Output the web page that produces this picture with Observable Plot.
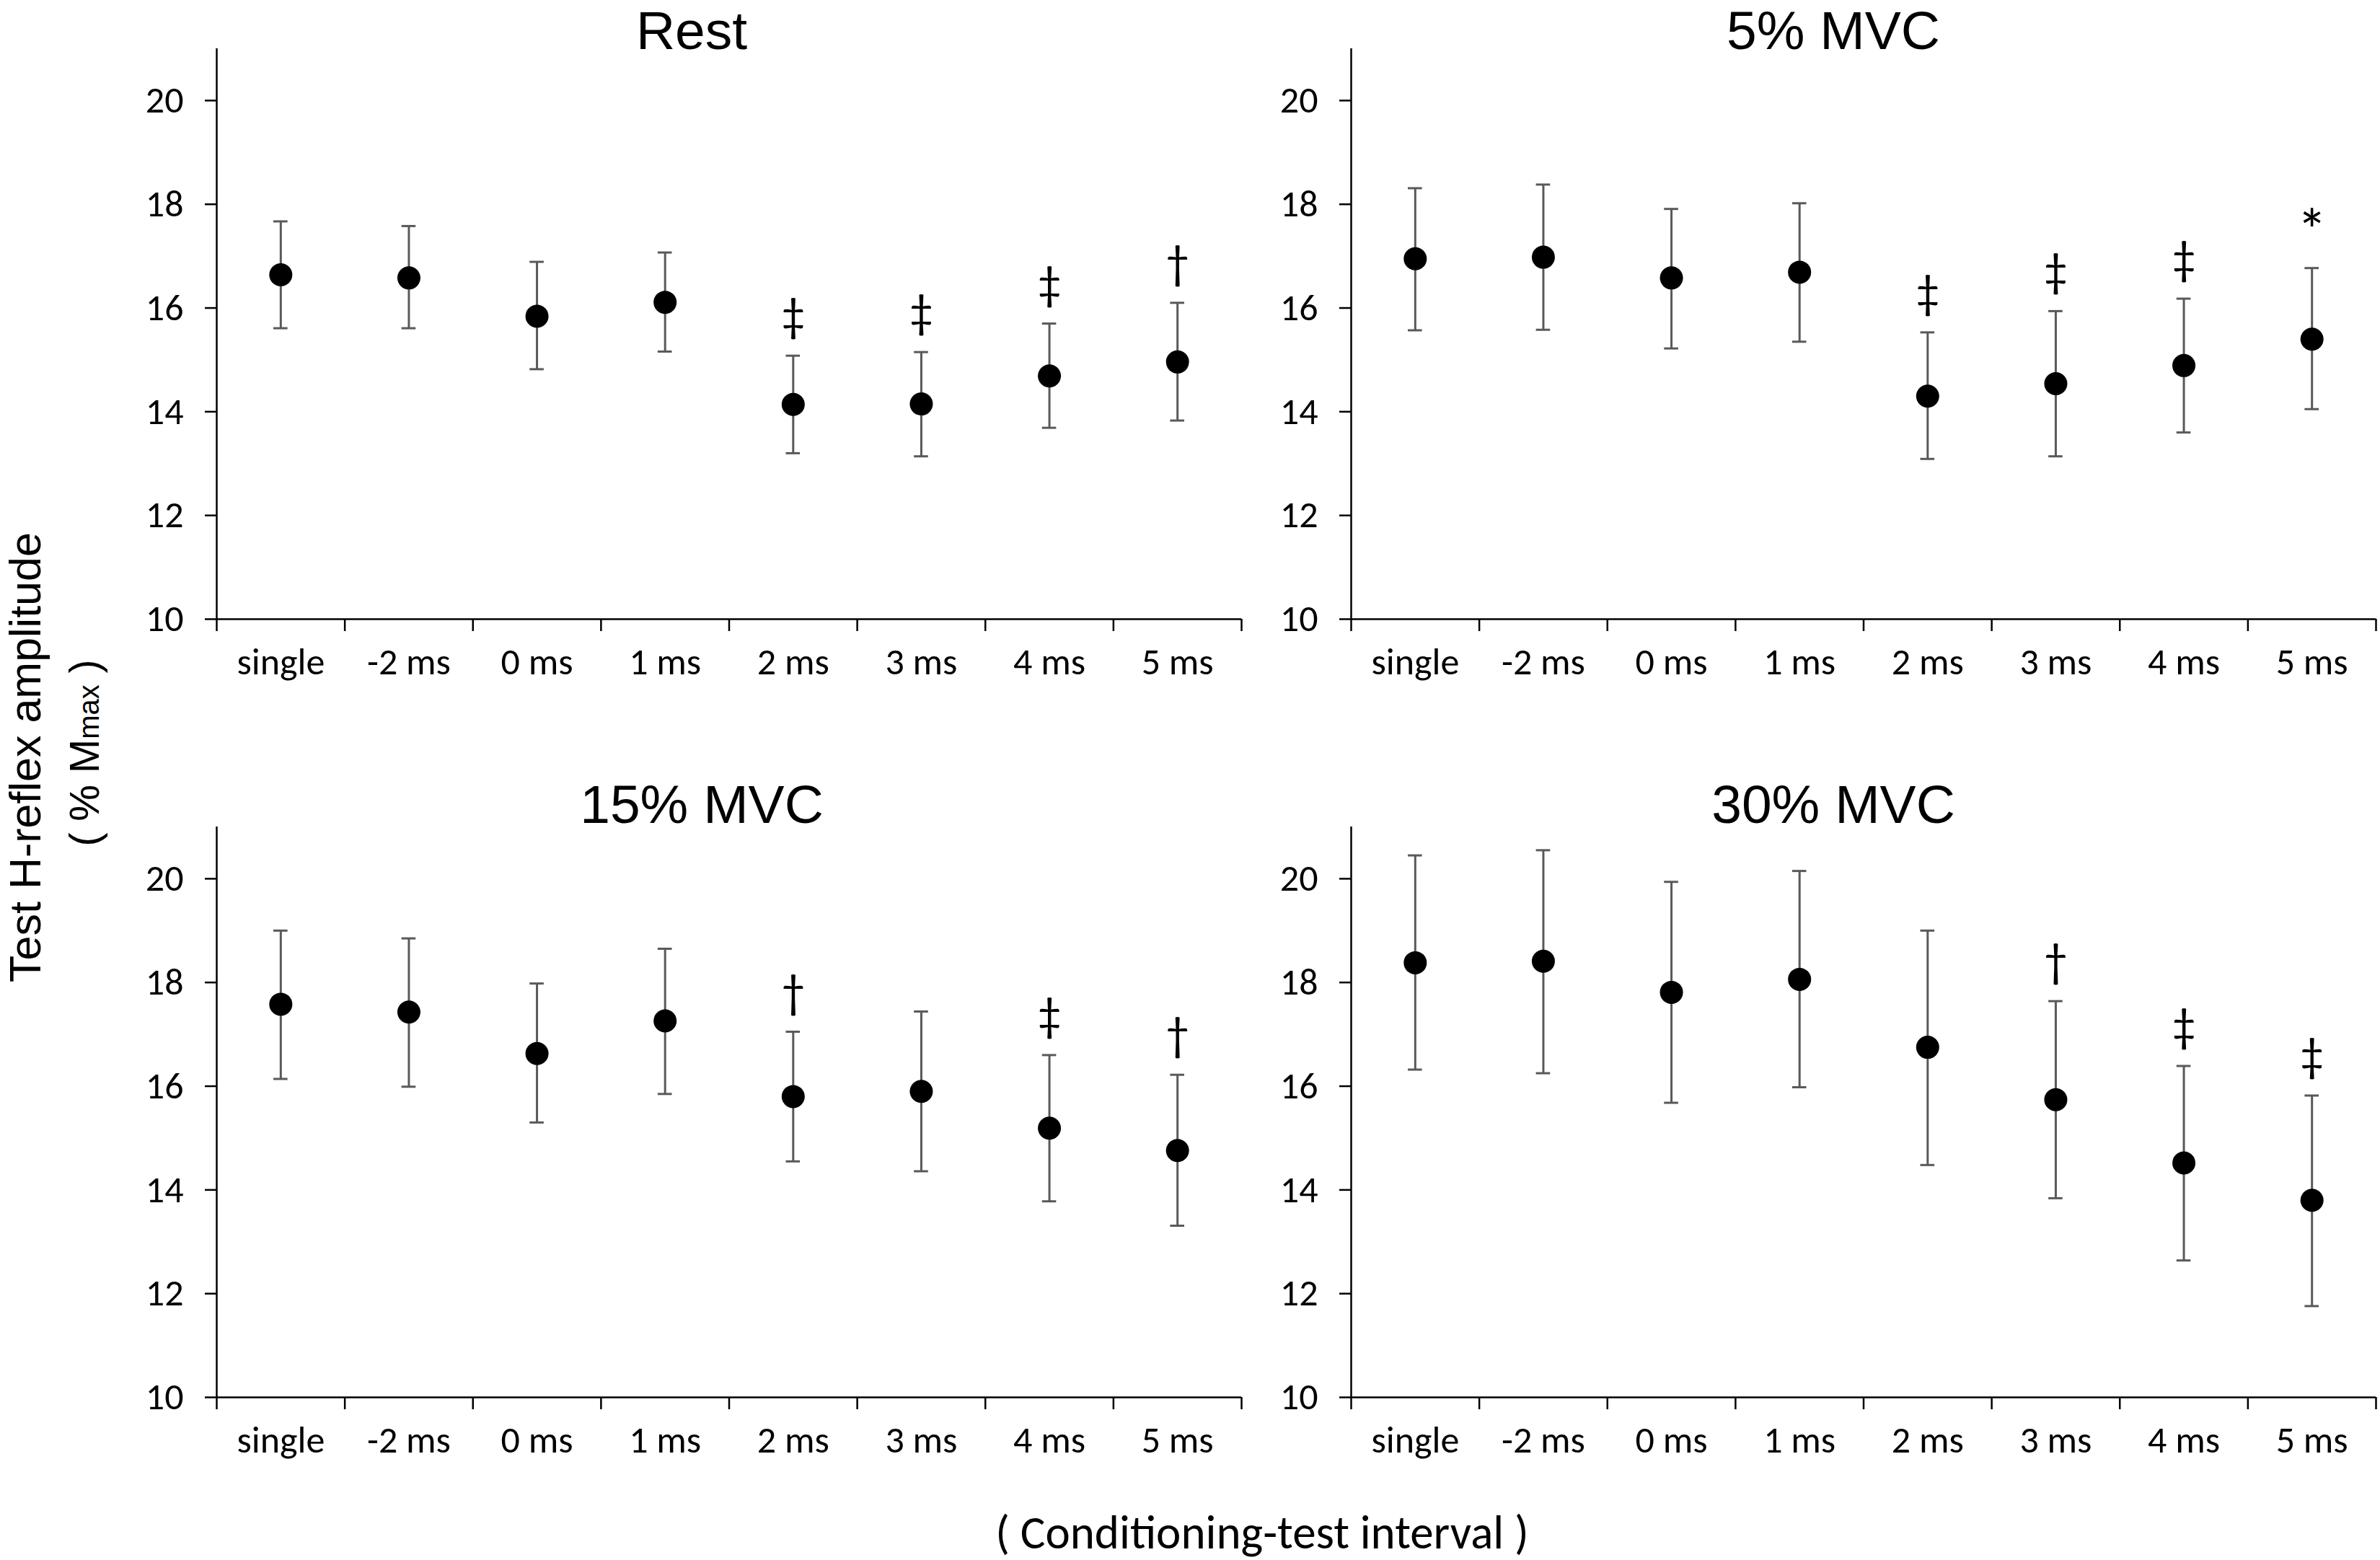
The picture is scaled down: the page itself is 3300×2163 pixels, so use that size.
<!DOCTYPE html>
<html>
<head>
<meta charset="utf-8">
<script src="https://cdn.jsdelivr.net/npm/d3@7"></script>
<script src="https://cdn.jsdelivr.net/npm/@observablehq/plot@0.6"></script>
<style>
  html, body { margin: 0; padding: 0; background: #fff; }
  #root { position: relative; width: 3300px; height: 2163px; background: #fff; overflow: hidden; }
  .panel { position: absolute; }
  #overlay { position: absolute; left: 0; top: 0; pointer-events: none; }
</style>
</head>
<body>
<div id="root"></div>
<script>
// ---------- data ----------
const categories = ["single", "-2 ms", "0 ms", "1 ms", "2 ms", "3 ms", "4 ms", "5 ms"];
const panelTitles = ["Rest", "5% MVC", "15% MVC", "30% MVC"];
const yTicks = [10, 12, 14, 16, 18, 20];

const restMean = [16.64, 16.58, 15.84, 16.11, 14.14, 14.15, 14.69, 14.96];
const restHi   = [17.67, 17.58, 16.89, 17.07, 15.08, 15.15, 15.70, 16.10];
const restLo   = [15.61, 15.61, 14.82, 15.16, 13.20, 13.14, 13.69, 13.83];
const restSig  = ["", "", "", "", "‡", "‡", "‡", "†"];

const mvc5Mean = [16.95, 16.98, 16.58, 16.69, 14.30, 14.54, 14.89, 15.40];
const mvc5Hi   = [18.31, 18.38, 17.91, 18.02, 15.53, 15.94, 16.18, 16.77];
const mvc5Lo   = [15.57, 15.58, 15.22, 15.35, 13.09, 13.14, 13.60, 14.05];
const mvc5Sig  = ["", "", "", "", "‡", "‡", "‡", "*"];

const mvc15Mean = [17.58, 17.43, 16.63, 17.26, 15.80, 15.90, 15.19, 14.76];
const mvc15Hi   = [19.00, 18.85, 17.98, 18.65, 17.05, 17.44, 16.60, 16.22];
const mvc15Lo   = [16.14, 15.99, 15.30, 15.85, 14.55, 14.36, 13.78, 13.31];
const mvc15Sig  = ["", "", "", "", "†", "", "‡", "†"];

const mvc30Mean = [18.38, 18.41, 17.81, 18.06, 16.75, 15.74, 14.52, 13.80];
const mvc30Hi   = [20.45, 20.55, 19.94, 20.15, 19.00, 17.64, 16.39, 15.82];
const mvc30Lo   = [16.32, 16.25, 15.68, 15.98, 14.48, 13.84, 12.64, 11.76];
const mvc30Sig  = ["", "", "", "", "", "†", "‡", "‡"];

const series = [
  [restMean, restHi, restLo, restSig],
  [mvc5Mean, mvc5Hi, mvc5Lo, mvc5Sig],
  [mvc15Mean, mvc15Hi, mvc15Lo, mvc15Sig],
  [mvc30Mean, mvc30Hi, mvc30Lo, mvc30Sig]
];

// ---------- layout ----------
const W = 1727, H = 968;
const panelPos = [[0, 0], [1573, 0], [0, 1079], [1573, 1079]];
const titlePos = [[959, 68], [2542, 68], [973, 1141], [2542, 1141]];
const tickFont = "Carlito, Lato, 'Open Sans', sans-serif";
const errColor = "#595959";

const root = document.getElementById("root");

series.forEach(([mean, hi, lo, sig], p) => {
  const rows = categories.map((c, i) => ({i, c, mean: mean[i], hi: hi[i], lo: lo[i], sig: sig[i]}));
  const daggers = rows.filter(d => d.sig && d.sig !== "*");
  const stars = rows.filter(d => d.sig === "*");
  const chart = Plot.plot({
    width: W,
    height: H,
    marginLeft: 300,
    marginRight: 6,
    marginTop: 67,
    marginBottom: 110,
    style: {fontFamily: tickFont, fontSize: "52px", background: "transparent", color: "#000", overflow: "visible"},
    x: {domain: [0, categories.length]},
    y: {domain: [10, 21]},
    marks: [
      Plot.ruleX(rows, {x: d => d.i + 0.5, y1: "lo", y2: "hi", stroke: errColor, strokeWidth: 3}),
      Plot.ruleY(rows, {y: "hi", x1: d => d.i, x2: d => d.i + 1, insetLeft: 79, insetRight: 79, stroke: errColor, strokeWidth: 3}),
      Plot.ruleY(rows, {y: "lo", x1: d => d.i, x2: d => d.i + 1, insetLeft: 79, insetRight: 79, stroke: errColor, strokeWidth: 3}),
      Plot.dot(rows, {x: d => d.i + 0.5, y: "mean", r: 16, fill: "#000", stroke: "none"}),
      Plot.text(daggers, {x: d => d.i + 0.5, y: "hi", text: "sig", lineAnchor: "bottom", dy: -34, fontSize: 66, fill: "#000"}),
      Plot.text(stars, {x: d => d.i + 0.5, y: "hi", text: "sig", lineAnchor: "bottom", dy: -24, fontSize: 84, fill: "#000"}),
      Plot.ruleY([10], {stroke: "#000", strokeWidth: 2.5}),
      Plot.ruleX([0], {stroke: "#000", strokeWidth: 2.5}),
      Plot.axisY({ticks: yTicks, tickSize: 16, tickPadding: 30, label: null, color: "#000", strokeWidth: 2.5, fontSize: 52}),
      Plot.axisX({ticks: categories.map((c, i) => i + 0.5), tickFormat: v => categories[Math.round(v - 0.5)], tickSize: 0, tickPadding: 40, label: null, color: "#000", fontSize: 52}),
      Plot.axisX({ticks: d3.range(categories.length + 1), tickFormat: () => "", tickSize: 17, label: null, color: "#000", strokeWidth: 2.5})
    ]
  });
  chart.classList.add("panel");
  chart.style.left = panelPos[p][0] + "px";
  chart.style.top = panelPos[p][1] + "px";
  root.appendChild(chart);
});

// ---------- titles and axis labels ----------
const ns = "http://www.w3.org/2000/svg";
const overlay = document.createElementNS(ns, "svg");
overlay.setAttribute("id", "overlay");
overlay.setAttribute("width", 3300);
overlay.setAttribute("height", 2163);
root.appendChild(overlay);

function addText(str, x, y, size, family, rotate) {
  const t = document.createElementNS(ns, "text");
  t.setAttribute("text-anchor", "middle");
  t.setAttribute("font-size", size);
  t.setAttribute("font-family", family);
  t.setAttribute("fill", "#000");
  t.setAttribute("transform", `translate(${x},${y})` + (rotate ? " rotate(-90)" : ""));
  t.textContent = str;
  overlay.appendChild(t);
  return t;
}

panelTitles.forEach((s, p) => addText(s, titlePos[p][0], titlePos[p][1], 75, "'Liberation Sans', Arial, sans-serif", false));

addText("Test H-reflex amplitude", 56, 1050, 61, "'Liberation Sans', Arial, sans-serif", true);

const yl2 = addText("", 137, 1044, 57, "'Liberation Sans', Arial, sans-serif", true);
const parts = [["( % M", null], ["max", 40], [" )", null]];
parts.forEach(([s, sz]) => {
  const ts = document.createElementNS(ns, "tspan");
  if (sz) ts.setAttribute("font-size", sz);
  ts.textContent = s;
  yl2.appendChild(ts);
});

addText("( Conditioning-test interval )", 1750, 2147, 65, tickFont, false);
</script>
</body>
</html>
